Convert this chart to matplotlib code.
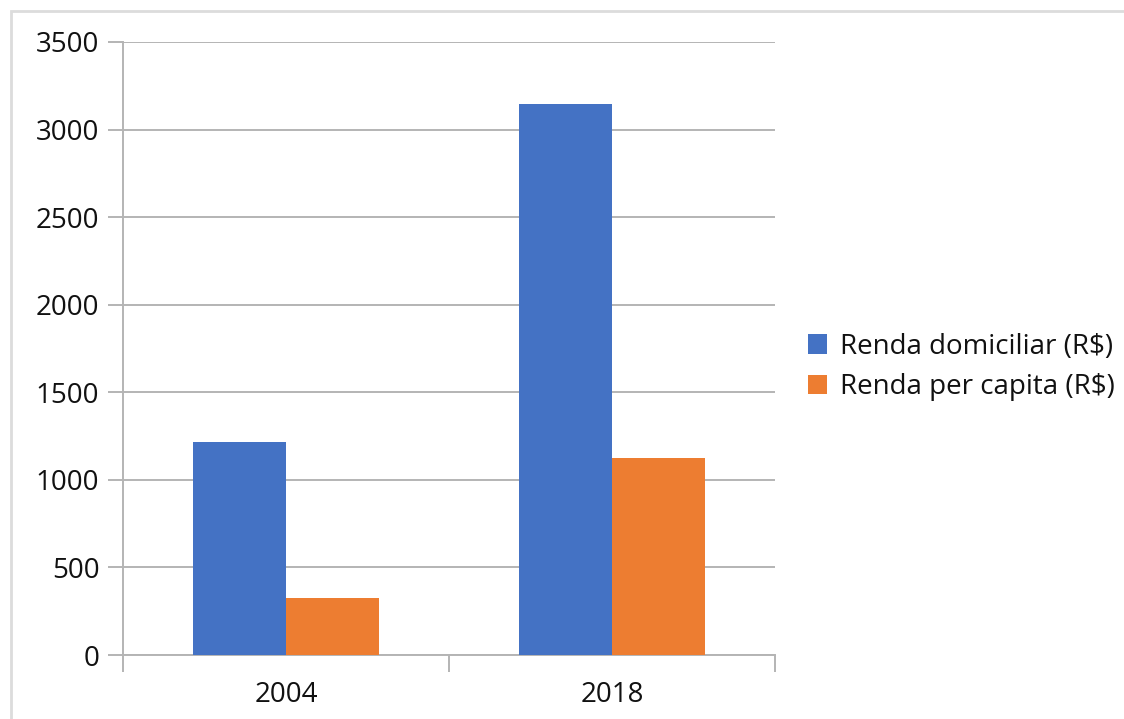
import matplotlib.pyplot as plt
import numpy as np
from matplotlib.patches import Rectangle

years = ["2004", "2018"]
renda_domiciliar = [1216, 3146]
renda_per_capita = [325, 1125]
series_labels = ["Renda domiciliar (R$)", "Renda per capita (R$)"]
y_ticks = [0, 500, 1000, 1500, 2000, 2500, 3000, 3500]

BLUE = "#4472C4"
ORANGE = "#ED7D31"
GRID = "#b4b4b4"
TEXT = "#111111"

plt.rcParams["font.family"] = ["Open Sans", "DejaVu Sans"]

fig = plt.figure(figsize=(11.24, 7.19), dpi=100)
ax = fig.add_axes([123 / 1124, 1 - 655 / 719, (775 - 123) / 1124, (655 - 42) / 719])

# outer chart border (partially cropped in the original)
fig.patches.append(Rectangle((11 / 1124, -0.1), 1.2, 1 - 11 / 719 + 0.1,
                             transform=fig.transFigure, fill=False,
                             edgecolor="#dcdcdc", linewidth=2))

x = np.arange(len(years))
w = 0.285
ax.bar(x - w / 2, renda_domiciliar, w, color=BLUE, label=series_labels[0], zorder=3)
ax.bar(x + w / 2, renda_per_capita, w, color=ORANGE, label=series_labels[1], zorder=3)

ax.set_xlim(-0.5, len(years) - 0.5)
ax.set_ylim(0, 3500)
ax.set_yticks(y_ticks)
ax.yaxis.grid(True, color=GRID, linewidth=1.4, zorder=0)
ax.set_axisbelow(True)

# category ticks sit on the boundaries, labels in the middle
ax.set_xticks(np.arange(len(years) + 1) - 0.5)
ax.set_xticklabels([])
ax.set_xticks(x, minor=True)
ax.set_xticklabels(years, minor=True, fontsize=20, color=TEXT)
ax.tick_params(axis="x", which="major", length=12, width=1.4, color=GRID)
ax.tick_params(axis="x", which="minor", length=0, pad=19)
ax.tick_params(axis="y", length=11, width=1.4, color=GRID, labelsize=20,
               labelcolor=TEXT, pad=6)

for side in ["top", "right"]:
    ax.spines[side].set_visible(False)
ax.spines["left"].set_color(GRID)
ax.spines["left"].set_linewidth(1.4)
ax.spines["bottom"].set_color(GRID)
ax.spines["bottom"].set_linewidth(1.4)

leg = ax.legend(loc="center left", bbox_to_anchor=(1.012, 0.47), frameon=False,
                fontsize=20, handlelength=0.7, handleheight=0.7,
                handletextpad=0.45, labelspacing=0.45, labelcolor=TEXT)

fig.savefig("out.png", dpi=100)
